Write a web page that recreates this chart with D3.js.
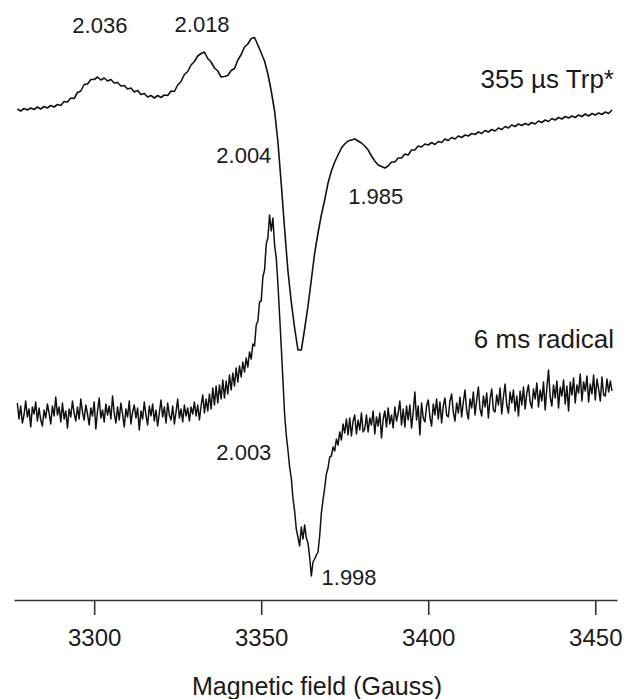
<!DOCTYPE html>
<html>
<head>
<meta charset="utf-8">
<script src="https://cdn.jsdelivr.net/npm/d3@7"></script>
<style>
  html, body { margin: 0; padding: 0; background: #fff; }
  svg { display: block; }
  text { font-family: "Liberation Sans", Arial, Helvetica, sans-serif; fill: #1a1a1a; }
</style>
</head>
<body>
<svg id="chart" width="624" height="699"></svg>
<script>
// ---- Data ----
// Magnetic field sweep (Gauss)
const fieldDomain = [3276, 3456.5];
const tickValues = [3300, 3350, 3400, 3450];
const xAxisLabel = "Magnetic field (Gauss)";

// Series 1: 355 µs Trp* spectrum, sampled every 1 G starting at 3277 G (arbitrary units)
const trpStart = 3277;
const trpStep = 1;
const trpValues = [
  98.2, 97.8, 98.3, 98.0, 98.4, 98.1, 98.6, 98.2, 98.7, 98.4, 98.9, 98.6, 99.1, 98.9, 99.7, 99.6, 100.4, 100.3, 101.5, 101.8,
  103.1, 103.2, 104.1, 104.1, 104.6, 104.0, 104.4, 103.8, 104.1, 103.4, 103.5, 102.8, 102.9, 102.2, 102.4, 101.6, 101.9, 101.1, 101.3, 100.6,
  100.9, 100.4, 100.9, 100.5, 101.0, 100.9, 101.8, 101.7, 103.0, 103.7, 105.1, 105.7, 107.0, 107.7, 108.8, 109.3, 109.6, 108.3, 107.6, 106.4,
  105.8, 104.6, 104.7, 104.9, 105.9, 106.3, 108.0, 109.1, 110.6, 111.2, 112.3, 112.5, 111.0, 109.4, 107.8, 105.2, 101.8, 97.8, 91.6, 83.2,
  74.2, 65.8, 59.6, 54.4, 50.0, 50.0, 54.2, 58.8, 64.0, 69.4, 73.4, 77.0, 80.0, 83.4, 85.8, 87.6, 89.0, 90.4, 91.2, 91.8,
  92.0, 92.2, 91.8, 91.4, 90.8, 90.0, 88.8, 87.8, 87.0, 86.7, 86.4, 86.8, 87.6, 87.6, 88.4, 88.4, 89.2, 89.0, 90.0, 90.0,
  90.8, 90.6, 91.2, 91.0, 91.5, 91.1, 91.7, 91.5, 92.2, 91.9, 92.5, 92.2, 92.8, 92.5, 93.0, 92.8, 93.3, 93.1, 93.6, 93.3,
  93.9, 93.6, 94.1, 93.8, 94.4, 94.1, 94.7, 94.4, 95.0, 94.7, 95.2, 94.9, 95.3, 95.0, 95.5, 95.2, 95.8, 95.5, 96.0, 95.7,
  96.3, 96.0, 96.5, 96.2, 96.7, 96.4, 96.8, 96.5, 97.0, 96.7, 97.2, 96.8, 97.3, 97.0, 97.4, 97.1, 97.6, 97.3, 98.0
];

// Series 2: 6 ms radical spectrum, sampled every 0.5 G starting at 3277 G (arbitrary units)
const radStart = 3277;
const radStep = 0.5;
const radValues = [
  39.4, 36.2, 38.8, 35.4, 37.0, 39.8, 36.6, 38.2, 34.6, 38.6, 37.2, 39.6, 35.8, 38.4, 36.0, 34.8, 38.0, 36.4, 39.2, 37.4,
  35.2, 38.8, 36.8, 40.6, 37.0, 38.6, 35.6, 39.4, 36.2, 37.8, 34.4, 38.2, 36.6, 39.8, 37.4, 35.8, 38.6, 36.2, 40.2, 37.6,
  36.0, 39.0, 37.2, 35.0, 38.4, 36.8, 39.6, 34.2, 37.8, 40.4, 36.4, 38.0, 35.6, 39.2, 37.0, 38.8, 36.2, 40.8, 37.4, 35.4,
  38.6, 36.0, 39.4, 37.2, 34.6, 38.2, 36.6, 39.8, 35.2, 37.6, 39.0, 36.4, 38.4, 34.0, 37.8, 36.2, 39.6, 37.0, 35.0, 38.8,
  36.8, 39.2, 35.8, 38.0, 34.8, 37.4, 40.0, 36.6, 38.6, 35.4, 39.4, 37.0, 36.0, 38.8, 35.2, 37.6, 40.2, 36.4, 38.2, 35.6,
  39.0, 36.8, 38.4, 35.8, 38.6, 37.2,
  39.6, 36.8, 39.0, 36.0, 38.8, 41.0, 37.4, 40.2, 37.8, 41.2, 38.2, 42.4, 39.0, 42.8, 39.4, 43.0, 40.2, 44.0, 40.4, 43.8,
  41.2, 45.0, 42.0, 45.4, 42.8, 46.4, 43.6, 46.8, 44.6, 47.6, 45.6, 48.4, 46.6, 49.6, 48.2, 51.2, 50.8, 55.0, 55.8, 59.6,
  59.8, 64.6, 66.0, 71.2, 72.4, 77.0, 73.8, 76.4, 71.0, 68.4, 63.2, 57.0, 50.6, 44.0, 37.2, 33.0, 30.0, 26.6, 24.4, 20.4,
  17.8, 14.2, 12.6, 10.8, 14.6, 12.2, 15.0, 12.4, 11.4, 8.6, 4.8, 7.6, 8.2, 9.0, 9.6, 12.8, 17.4, 20.0, 22.4, 25.2,
  26.4, 28.6, 28.8, 30.6, 29.8, 32.2, 31.0, 33.6, 32.0, 35.2, 33.4, 36.2, 33.0, 36.4, 32.8, 35.8, 37.0, 33.2, 36.0, 34.0,
  37.4, 33.6,
  34.2, 37.0, 33.6, 36.4, 35.0, 37.8, 33.2, 36.6, 34.8, 37.4, 32.4, 36.2, 37.8, 34.6, 38.4, 35.2, 37.0, 34.4, 38.6, 35.8,
  37.4, 39.8, 35.0, 38.2, 34.6, 38.8, 36.0, 39.0, 34.4, 37.6, 41.6, 36.0, 38.8, 33.0, 39.4, 36.4, 35.6, 38.8, 40.0, 36.6,
  34.8, 39.2, 37.0, 40.2, 36.2, 39.6, 35.4, 38.8, 40.4, 37.0, 36.6, 39.8, 41.2, 37.6, 35.8, 39.4, 37.4, 40.6, 36.6, 39.6,
  42.0, 37.8, 36.2, 40.2, 38.4, 41.6, 37.0, 40.0, 42.6, 38.2, 36.8, 40.8, 38.6, 41.4, 36.4, 40.2, 42.2, 38.0, 37.6, 41.0,
  39.0, 42.4, 37.2, 40.6, 43.2, 39.0, 37.4, 41.6, 39.4, 42.0, 37.8, 40.8, 36.8, 41.8, 39.0, 42.6, 38.2, 41.4, 43.0, 39.6,
  38.4, 42.2, 40.2, 43.4, 38.6, 42.0, 39.8, 43.6, 38.0, 42.4, 46.0, 40.6, 38.8, 43.0, 40.4, 43.8, 38.4, 42.6, 40.8, 44.0,
  39.2, 42.8, 37.8, 43.6, 41.0, 44.4, 39.4, 43.0, 41.4, 45.2, 39.8, 43.6, 41.8, 44.8, 39.6, 43.2, 41.2, 45.0, 40.0, 44.2,
  42.2, 39.8, 44.6, 41.0, 40.8, 44.2, 41.6, 43.8, 41.8
];

// Text annotations: g-values and series labels
const gLabels = ["2.036", "2.018", "2.004", "1.985", "2.003", "1.998"];
const gLabelFields = [3301.7, 3332.3, 3344.8, 3384.3, 3344.8, 3376.3];
const gLabelLevels = [113.4, 113.6, 87.4, 79.2, 28.0, 3.0];
const seriesLabels = ["355 µs Trp*", "6 ms radical"];
const seriesLabelLevels = [102.4, 50.4];

// ---- Build point arrays ----
const trpData = trpValues.map((v, i) => ({ field: trpStart + i * trpStep, value: v }));
const radData = radValues.map((v, i) => ({ field: radStart + i * radStep, value: v }));

// ---- Chart ----
const svg = d3.select("#chart");
const x = d3.scaleLinear().domain(fieldDomain).range([14, 617]);
const y = d3.scaleLinear().domain([0, 120]).range([600, 0]);

const line = d3.line()
  .x(d => x(d.field))
  .y(d => y(d.value));

svg.append("path")
  .datum(trpData)
  .attr("d", line)
  .attr("fill", "none")
  .attr("stroke", "#111")
  .attr("stroke-width", 1.6)
  .attr("stroke-linejoin", "round");

svg.append("path")
  .datum(radData)
  .attr("d", line)
  .attr("fill", "none")
  .attr("stroke", "#111")
  .attr("stroke-width", 1.5)
  .attr("stroke-linejoin", "round");

// Axis
const axis = d3.axisBottom(x)
  .tickValues(tickValues)
  .tickSize(15)
  .tickSizeOuter(0)
  .tickPadding(14)
  .tickFormat(d3.format("d"));

const gAxis = svg.append("g")
  .attr("transform", `translate(0,${y(0)})`)
  .call(axis);

gAxis.select(".domain").attr("stroke", "#333").attr("stroke-width", 1.6);
gAxis.selectAll(".tick line").attr("stroke", "#333").attr("stroke-width", 1.6);
gAxis.selectAll(".tick text")
  .attr("font-family", "'Liberation Sans', Arial, sans-serif")
  .attr("font-size", 24)
  .attr("fill", "#1a1a1a");

svg.append("text")
  .attr("x", 317)
  .attr("y", 695)
  .attr("text-anchor", "middle")
  .attr("font-size", 25)
  .text(xAxisLabel);

// g-value annotations
gLabels.forEach((t, i) => {
  svg.append("text")
    .attr("x", x(gLabelFields[i]))
    .attr("y", y(gLabelLevels[i]))
    .attr("text-anchor", "middle")
    .attr("font-size", 22)
    .text(t);
});

// Series labels
seriesLabels.forEach((t, i) => {
  svg.append("text")
    .attr("x", 614)
    .attr("y", y(seriesLabelLevels[i]))
    .attr("text-anchor", "end")
    .attr("font-size", 26)
    .text(t);
});
</script>
</body>
</html>
